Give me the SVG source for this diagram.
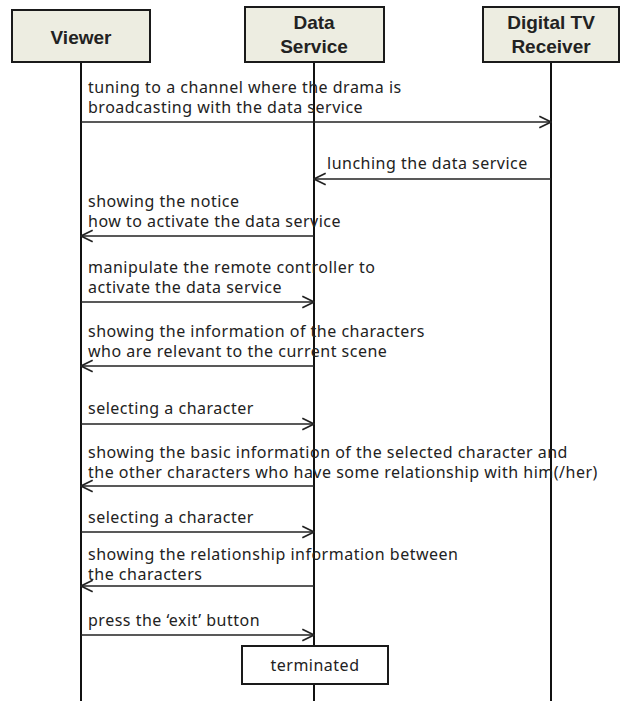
<svg xmlns="http://www.w3.org/2000/svg" width="621" height="701" viewBox="0 0 621 701">
<style>
.actor{fill:#EDEDE1;stroke:#1a1a1a;stroke-width:2}
.hdr{font-family:"Liberation Sans",Arial,sans-serif;font-weight:bold;font-size:19px;fill:#222;text-anchor:middle}
.life{stroke:#111;stroke-width:2}
.msg{stroke:#222;stroke-width:1.4;fill:none}
.lbl{font-family:"Noto Sans","Liberation Sans",sans-serif;font-size:16px;letter-spacing:0.5px;fill:#222}
.term{fill:#fff;stroke:#1a1a1a;stroke-width:2}
</style>
<defs>
<marker id="ah" markerUnits="userSpaceOnUse" markerWidth="14" markerHeight="14" viewBox="0 0 12 12" refX="11" refY="6" orient="auto">
<path d="M1,1 L11,6 L1,11" fill="none" stroke="#222" stroke-width="1.4"/>
</marker>
</defs>
<g id="lifelines">
<line class="life" x1="81" y1="62" x2="81" y2="701"/>
<line class="life" x1="314" y1="62" x2="314" y2="701"/>
<line class="life" x1="551" y1="62" x2="551" y2="701"/>
</g>
<g id="viewer">
<rect class="actor" x="12" y="10" width="138" height="52"/>
<text class="hdr" x="81" y="44">Viewer</text>
</g>
<g id="data-service">
<rect class="actor" x="245" y="7" width="139" height="55"/>
<text class="hdr" x="314" y="29">Data</text>
<text class="hdr" x="314" y="53">Service</text>
</g>
<g id="receiver">
<rect class="actor" x="483" y="7" width="136" height="55"/>
<text class="hdr" x="551" y="29">Digital TV</text>
<text class="hdr" x="551" y="53">Receiver</text>
</g>
<g id="connectors">
<line class="msg" x1="81" y1="122" x2="551" y2="122" marker-end="url(#ah)"/>
<line class="msg" x1="551" y1="179" x2="314" y2="179" marker-end="url(#ah)"/>
<line class="msg" x1="314" y1="236" x2="81" y2="236" marker-end="url(#ah)"/>
<line class="msg" x1="81" y1="302" x2="314" y2="302" marker-end="url(#ah)"/>
<line class="msg" x1="314" y1="366" x2="81" y2="366" marker-end="url(#ah)"/>
<line class="msg" x1="81" y1="424" x2="314" y2="424" marker-end="url(#ah)"/>
<line class="msg" x1="314" y1="486" x2="81" y2="486" marker-end="url(#ah)"/>
<line class="msg" x1="81" y1="532" x2="314" y2="532" marker-end="url(#ah)"/>
<line class="msg" x1="314" y1="586" x2="81" y2="586" marker-end="url(#ah)"/>
<line class="msg" x1="81" y1="635" x2="314" y2="635" marker-end="url(#ah)"/>
</g>
<g id="labels">
<text class="lbl" x="88" y="93">tuning to a channel where the drama is</text>
<text class="lbl" x="88" y="113">broadcasting with the data service</text>
<text class="lbl" x="327" y="169">lunching the data service</text>
<text class="lbl" x="88" y="207">showing the notice</text>
<text class="lbl" x="88" y="227">how to activate the data service</text>
<text class="lbl" x="88" y="273">manipulate the remote controller to</text>
<text class="lbl" x="88" y="293">activate the data service</text>
<text class="lbl" x="88" y="337">showing the information of the characters</text>
<text class="lbl" x="88" y="357">who are relevant to the current scene</text>
<text class="lbl" x="88" y="414">selecting a character</text>
<text class="lbl" x="88" y="458">showing the basic information of the selected character and</text>
<text class="lbl" x="88" y="478">the other characters who have some relationship with him(/her)</text>
<text class="lbl" x="88" y="523">selecting a character</text>
<text class="lbl" x="88" y="560">showing the relationship information between</text>
<text class="lbl" x="88" y="580">the characters</text>
<text class="lbl" x="88" y="626">press the ‘exit’ button</text>
</g>
<g id="terminated">
<rect class="term" x="242" y="646" width="146" height="38"/>
<text class="lbl" x="315" y="671" text-anchor="middle">terminated</text>
</g>
</svg>
